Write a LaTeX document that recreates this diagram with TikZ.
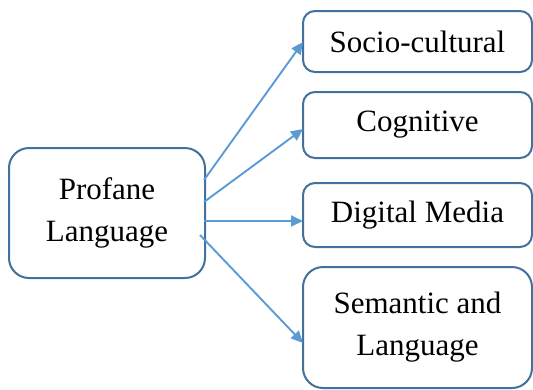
\documentclass[tikz,border=0pt]{standalone}
\usepackage{fontspec}
\setmainfont{Liberation Serif}
\usetikzlibrary{arrows.meta}
\definecolor{boxblue}{RGB}{65,113,156}
\definecolor{arrblue}{RGB}{91,155,213}
\begin{document}
\begin{tikzpicture}[x=1pt,y=-1pt,
  box/.style={draw=boxblue,line width=2pt,fill=white,font=\fontsize{31}{42}\selectfont,align=center},
  conn/.style={draw=arrblue,line width=1.9pt,-{Triangle[length=12pt,width=11pt]}}]
\useasboundingbox (0,0) rectangle (533,389);
\node[box,rounded corners=20pt,minimum width=196pt,minimum height=130pt] (p) at (107,213) {Profane\\Language};
\node[box,rounded corners=12pt,minimum width=229pt,minimum height=61pt] (s) at (417.5,41.5) {Socio-cultural};
\node[box,rounded corners=12pt,minimum width=229pt,minimum height=66pt] (c) at (417.5,125) {Cognitive};
\node[box,rounded corners=12pt,minimum width=229pt,minimum height=64pt] (d) at (417.5,215) {Digital Media};
\node[box,rounded corners=20pt,minimum width=229pt,minimum height=121pt] (m) at (417.5,327.5) {Semantic and\\Language};
\coordinate (p1) at (204,180);
\coordinate (p2) at (204,202);
\coordinate (p3) at (204,221);
\coordinate (p4) at (200,235);
\coordinate (e1) at (303,42);
\coordinate (e2) at (303,129);
\coordinate (e3) at (303,221);
\coordinate (e4) at (303,343);
\draw[conn] (p1) -- (e1);
\draw[conn] (p2) -- (e2);
\draw[conn] (p3) -- (e3);
\draw[conn] (p4) -- (e4);
\end{tikzpicture}
\end{document}
